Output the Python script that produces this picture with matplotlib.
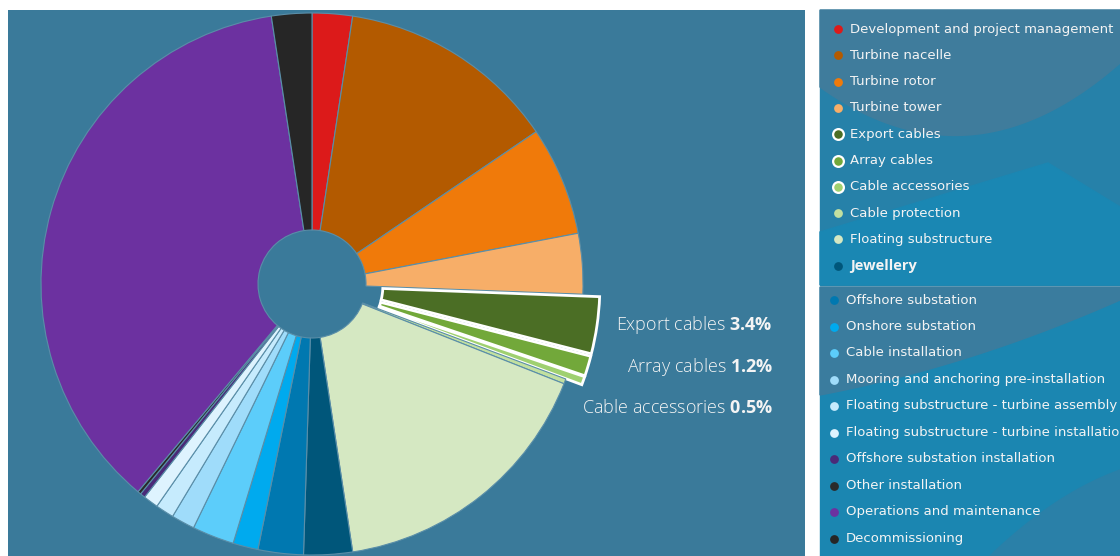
import numpy as np
import matplotlib.pyplot as plt
from matplotlib.patches import Rectangle, Polygon

W, H = 1120, 556

labels = [
    "Development and project management", "Turbine nacelle", "Turbine rotor",
    "Turbine tower", "Export cables", "Array cables", "Cable accessories",
    "Cable protection", "Floating substructure", "Jewellery",
    "Offshore substation", "Onshore substation", "Cable installation",
    "Mooring and anchoring pre-installation",
    "Floating substructure - turbine assembly",
    "Floating substructure - turbine installation",
    "Offshore substation installation", "Other installation",
    "Operations and maintenance", "Decommissioning",
]
values = [2.4, 13.1, 6.5, 3.6, 3.4, 1.2, 0.5, 0.3, 16.6, 2.9,
          2.7, 1.5, 2.5, 1.4, 1.1, 0.9, 0.3, 0.2, 36.5, 2.4]
colors = ["#dc1a1a", "#b35a00", "#f07a0a", "#f7ae68", "#4b6e25", "#72a83a",
          "#9fd070", "#c2e0a0", "#d5e8c2", "#00567a", "#0078b0", "#00aaee",
          "#5ccdfa", "#9fdcfa", "#c6ebfd", "#def3fe", "#4a2a78", "#2a2a2a",
          "#6c31a0", "#262626"]
selected = ["Export cables", "Array cables", "Cable accessories"]
callouts = [("Export cables", "3.4%"), ("Array cables", "1.2%"),
            ("Cable accessories", "0.5%")]

bg = "#3a7a9a"
plt.rcParams["mathtext.fontset"] = "custom"
plt.rcParams["mathtext.bf"] = "Open Sans:bold"
plt.rcParams["mathtext.rm"] = "Open Sans"

fig = plt.figure(figsize=(11.2, 5.56), dpi=100)
fig.patch.set_facecolor("white")

# pie panel, data units are pixels
ax = fig.add_axes([8 / W, 0, 797 / W, 546 / H])
explode = [17 if l in selected else 0 for l in labels]
wedges, _ = ax.pie(values, colors=colors, startangle=90, counterclock=False,
                   radius=271, center=(304, 272), explode=explode,
                   wedgeprops=dict(width=217, edgecolor="#5a8ea8", linewidth=0.8))
for w, l in zip(wedges, labels):
    if l in selected:
        w.set_edgecolor("white")
        w.set_linewidth(2)
ax.set_axis_on()
ax.set_frame_on(True)
ax.patch.set_visible(True)
ax.set_facecolor(bg)
ax.set_xlim(0, 797)
ax.set_ylim(0, 546)
ax.set_aspect("auto")
ax.set_xticks([])
ax.set_yticks([])
for s in ax.spines.values():
    s.set_visible(False)

for i, (name, pct) in enumerate(callouts):
    fig.text(773 / W, 1 - (325 + i * 41.5) / H, name + r" $\mathbf{" + pct.replace("%", r"\%") + "}$",
             ha="right", va="center", color="#f4f4f4", fontsize=13,
             family="Open Sans", fontweight="light")

# legend panels
lax = fig.add_axes([0, 0, 1, 1])
lax.set_xlim(0, W)
lax.set_ylim(H, 0)
lax.axis("off")

lax.add_patch(Rectangle((820, 10), 300, 275, color="#2681a9", zorder=1))
lax.add_patch(Rectangle((820, 287), 300, 269, color="#1b86b1", zorder=1))
# background swooshes
lax.add_patch(Polygon([[820, 285], [820, 232], [1048, 163], [1120, 207], [1120, 285]],
                      color="#1a87b3", zorder=1.5))
xs = np.linspace(820, 1120, 60)
c = np.polyfit([820, 942, 1120], [87, 135, 63], 2)
lax.add_patch(Polygon(np.vstack([[820, 10], np.column_stack([xs, np.polyval(c, xs)]), [1120, 10]]),
                      color="#3f7c9c", zorder=2))
c2 = np.polyfit([820, 960, 1120], [395, 360, 300], 2)
lax.add_patch(Polygon(np.vstack([[820, 287], np.column_stack([xs, np.polyval(c2, xs)]), [1120, 287]]),
                      color="#3a7c9e", zorder=2))
c3 = np.polyfit([990, 1060, 1120], [556, 500, 470], 2)
xs3 = np.linspace(990, 1120, 30)
lax.add_patch(Polygon(np.vstack([np.column_stack([xs3, np.polyval(c3, xs3)]), [1120, 556]]),
                      color="#2a80a8", zorder=2))

for i, (l, col) in enumerate(zip(labels, colors)):
    if i < 10:
        mx, tx, y = 838, 850, 29 + i * 26.3
    else:
        mx, tx, y = 834, 846, 300 + (i - 10) * 26.5
    if l in selected:
        lax.scatter(mx, y, s=60, color=col, edgecolor="white", linewidth=1.6, zorder=5)
    else:
        lax.scatter(mx, y, s=40, color=col, linewidth=0, zorder=5)
    if l == "Jewellery":
        lax.text(tx, y, l, color="#f4f4f4", fontsize=10.5, family="Open Sans",
                 fontweight="bold", va="center", zorder=6)
    else:
        lax.text(tx, y, l, color="#f4f4f4", fontsize=9.5, family="DejaVu Sans",
                 va="center", zorder=6, clip_on=True)

fig.savefig("out.png", dpi=100)
